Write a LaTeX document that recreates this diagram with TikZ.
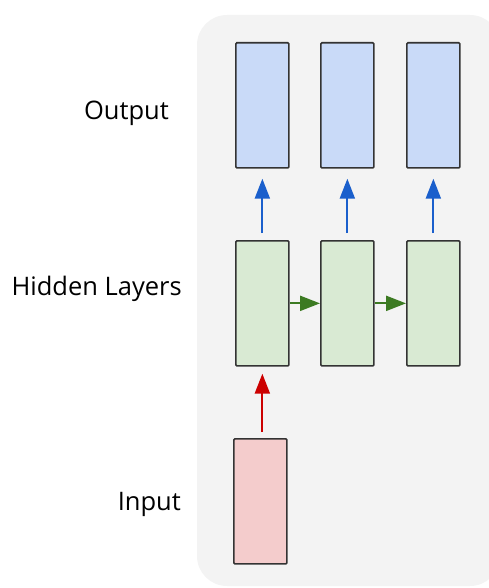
\documentclass[tikz,border=0pt]{standalone}
\usepackage{fontspec}
\setmainfont{Open Sans}
\usetikzlibrary{arrows.meta}
\definecolor{panel}{HTML}{F3F3F3}
\definecolor{outfill}{HTML}{C9DAF8}
\definecolor{hidfill}{HTML}{D9EAD3}
\definecolor{infill}{HTML}{F4CCCC}
\definecolor{edge}{HTML}{333333}
\definecolor{bluearrow}{HTML}{1A5FCC}
\definecolor{greenarrow}{HTML}{3C7A22}
\definecolor{redarrow}{HTML}{CC0000}
\tikzset{
  cell/.style={draw=edge, line width=1.7pt, minimum width=53pt, minimum height=125pt, inner sep=0pt, anchor=north west, rounded corners=1pt},
  outcell/.style={cell, fill=outfill},
  hidcell/.style={cell, fill=hidfill},
  incell/.style={cell, fill=infill},
  flow/.style={line width=2.2pt, -{Triangle[length=20pt, width=15pt]}},
  lbl/.style={font=\fontsize{25.5}{30}\selectfont, anchor=base east, inner sep=0pt}
}
\begin{document}
\begin{tikzpicture}[x=1pt, y=-1pt]
  \useasboundingbox (0,0) rectangle (489,588);
  % grey panel behind the network
  \fill[panel, rounded corners=30pt] (197,15) rectangle (500,586);

  % output layer
  \node[outcell] (o1) at (235,42) {};
  \node[outcell] (o2) at (320,42) {};
  \node[outcell] (o3) at (406,42) {};

  % hidden layers
  \node[hidcell] (h1) at (235,240) {};
  \node[hidcell] (h2) at (320,240) {};
  \node[hidcell] (h3) at (406,240) {};

  % input
  \node[incell] (i1) at (233,438) {};

  % connections
  \draw[flow, bluearrow, shorten <=7pt, shorten >=10pt] (h1.north) -- (o1.south);
  \draw[flow, bluearrow, shorten <=7pt, shorten >=10pt] (h2.north) -- (o2.south);
  \draw[flow, bluearrow, shorten <=7pt, shorten >=10pt] (h3.north) -- (o3.south);
  \draw[flow, greenarrow] (h1.east) -- (h2.west);
  \draw[flow, greenarrow] (h2.east) -- (h3.west);
  \draw[flow, redarrow, shorten <=6pt, shorten >=7pt] (i1.north -| h1.south) -- (h1.south);

  % row labels
  \node[lbl] (lout) at (169,120) {Output};
  \node[lbl] (lhid) at (182,295) {Hidden Layers};
  \node[lbl] (lin) at (181,510) {Input};
\end{tikzpicture}
\end{document}
